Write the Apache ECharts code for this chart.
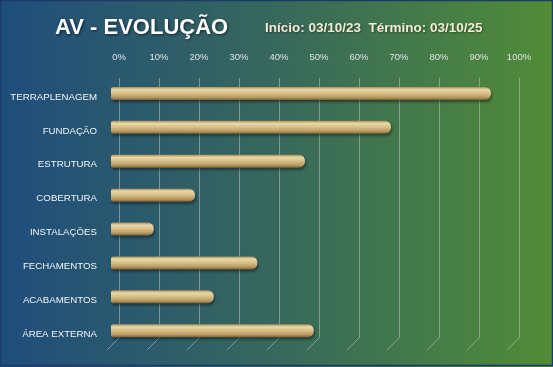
<!DOCTYPE html>
<html>
<head>
<meta charset="utf-8">
<script src="https://cdn.jsdelivr.net/npm/echarts@6/dist/echarts.min.js"></script>
<style>html,body{margin:0;padding:0;}#c{width:553px;height:367px;}</style>
</head>
<body>
<div id="c"></div>
<script>
const categories = ['TERRAPLENAGEM','FUNDAÇÃO','ESTRUTURA','COBERTURA','INSTALAÇÕES','FECHAMENTOS','ACABAMENTOS','ÁREA EXTERNA'];
const values = [95, 70, 48.5, 21, 10.7, 36.6, 25.7, 50.7];
const tickValues = [0,10,20,30,40,50,60,70,80,90,100];
const titleText = 'AV - EVOLUÇÃO';
const subtitleText = 'Início: 03/10/23  Término: 03/10/25';

const chart = echarts.init(document.getElementById('c'), null, {renderer:'canvas'});
const font = 'Liberation Sans';
chart.setOption({
  animation:false,
  backgroundColor:{type:'linear',x:0,y:0,x2:1,y2:0,colorStops:[
    {offset:0,color:'#1f4d7d'},{offset:0.5,color:'#37685c'},{offset:1,color:'#518c37'}]},
  title:[
    {text:titleText,left:50,top:12,textStyle:{color:'#ffffff',fontFamily:font,fontWeight:'bold',fontSize:22,
      textShadowColor:'rgba(0,0,0,0.6)',textShadowBlur:3,textShadowOffsetX:1,textShadowOffsetY:1}},
    {text:subtitleText,left:260,top:16,textStyle:{color:'#f2ecd4',fontFamily:font,fontWeight:'bold',fontSize:13.5,
      textShadowColor:'rgba(0,0,0,0.4)',textShadowBlur:2,textShadowOffsetX:1,textShadowOffsetY:1}}
  ],
  graphic:[{type:'rect',shape:{x:0.5,y:0.5,width:552,height:365},style:{fill:'none',stroke:'#1b3a66',lineWidth:1.5},z:100}],
  grid:[
    {left:119,width:400,top:78,height:260},
    {left:111,width:400,top:76.5,height:271.2},
    {left:111,width:400,top:80,height:271.2}
  ],
  xAxis:[
    {gridIndex:0,type:'value',min:0,max:100,interval:10,position:'top',
      axisLine:{show:false},axisTick:{show:false},
      axisLabel:{margin:16,color:'#dfe3e6',fontFamily:font,fontSize:9.5,formatter:'{value}%'},
      splitLine:{show:true,lineStyle:{color:'rgba(190,195,195,0.55)',width:1}}},
    {gridIndex:1,type:'value',min:0,max:100,show:false},
    {gridIndex:2,type:'value',min:0,max:100,show:false}
  ],
  yAxis:[
    {gridIndex:0,type:'value',min:0,max:1,show:false},
    {gridIndex:1,type:'category',data:categories,inverse:true,show:false},
    {gridIndex:2,type:'category',data:categories,inverse:true,
      axisLine:{show:false},axisTick:{show:false},splitLine:{show:false},
      axisLabel:{margin:14,color:'#f2f4f5',fontFamily:font,fontSize:9.7}}
  ],
  series:[
    {type:'custom',xAxisIndex:0,yAxisIndex:0,data:tickValues,silent:true,
      renderItem:function(params,api){
        const p = api.coord([api.value(0),0]);
        return {type:'line',shape:{x1:p[0],y1:p[1],x2:p[0]-12,y2:p[1]+12},
          style:{stroke:'rgba(190,195,195,0.55)',lineWidth:1}};
      }},
    {type:'bar',xAxisIndex:1,yAxisIndex:1,data:values,barWidth:13,
      itemStyle:{
        color:{type:'linear',x:0,y:0,x2:0,y2:1,colorStops:[
          {offset:0,color:'#a88e5a'},{offset:0.2,color:'#ead8a6'},{offset:0.5,color:'#d6be86'},
          {offset:0.8,color:'#b89a62'},{offset:1,color:'#7c6236'}]},
        borderRadius:[2,6,6,2],
        shadowColor:'rgba(0,0,0,0.45)',shadowBlur:3,shadowOffsetX:1,shadowOffsetY:2
      }}
  ]
});
</script>
</body>
</html>
